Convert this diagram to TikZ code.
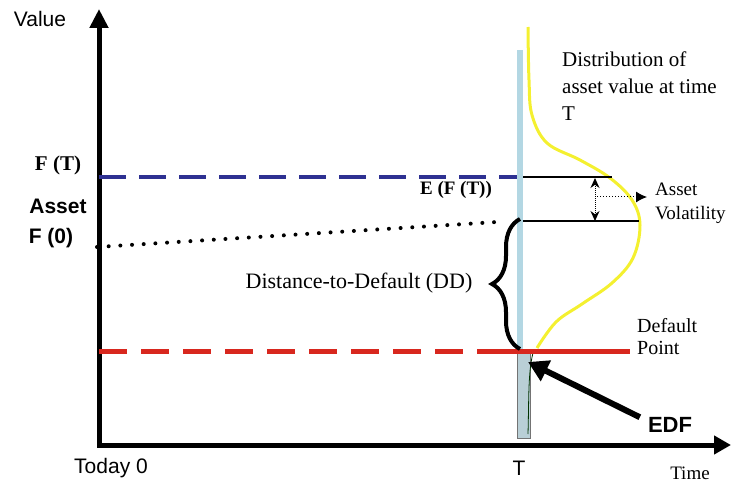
\documentclass[tikz,border=0pt]{standalone}
\usepackage{fontspec}
\setmainfont{Liberation Serif}
\setsansfont{Liberation Sans}
\usepackage{tikz}
\usetikzlibrary{arrows.meta,decorations.pathreplacing}

\definecolor{navyline}{HTML}{2E3192}
\definecolor{redline}{HTML}{D8271E}
\definecolor{paleblue}{HTML}{B3D7E3}
\definecolor{tailfill}{HTML}{B9CFD6}
\definecolor{distyellow}{HTML}{F4F030}

\begin{document}
\begin{tikzpicture}[
  x=1pt, y=-1pt,
  axis/.style={line width=5pt, line join=miter,
    {Triangle[length=19pt,width=18pt]}-{Triangle[length=17pt,width=18pt]}},
  sanslbl/.style={inner sep=0pt, font=\fontsize{21}{25}\selectfont\sffamily},
  seriflbl/.style={inner sep=0pt, font=\fontsize{21}{25}\selectfont\rmfamily},
  bluedash/.style={draw=navyline, line width=4pt, dash pattern=on 27pt off 13pt},
  reddash/.style={draw=redline, line width=5pt, dash pattern=on 28pt off 14pt},
  thinline/.style={draw, line width=1.2pt}
]
\useasboundingbox (0,0) rectangle (732,484);

\coordinate (ytip) at (99,9);
\coordinate (orig) at (99,445);
\coordinate (xtip) at (731,445);
\coordinate (ftstart) at (99,177);
\coordinate (ftend) at (517,177);
\coordinate (tlinetop) at (520,50);
\coordinate (tlinebot) at (520,351);
\coordinate (ftright) at (523,177);
\coordinate (ftvol) at (612,177);
\coordinate (eftright) at (523,221);
\coordinate (eftvol) at (639,221);
\coordinate (volup) at (595,178);
\coordinate (voldown) at (595,221);
\coordinate (volmid) at (597,197);
\coordinate (voltip) at (647,197);
\coordinate (fzero) at (97,247);
\coordinate (fzeroend) at (497,222);
\coordinate (bracetop) at (520,219);
\coordinate (bracebot) at (520,349);
\coordinate (dpstart) at (99,351);
\coordinate (dpmid) at (505,351);
\coordinate (dpend) at (630,351);
\coordinate (edftip) at (528,362);

\node[sanslbl] (value) at (40,19) {Value};
\node[sanslbl] (today) at (111,468) {Today 0};
\node[sanslbl] (tlabel) at (519,468) {T};
\node[seriflbl, font=\fontsize{19}{22}\selectfont\rmfamily] (time) at (690,473) {Time};
\node[seriflbl, font=\fontsize{21}{25}\selectfont\rmfamily\bfseries] (ft) at (58,165) {F (T)};
\node[sanslbl, font=\fontsize{21}{25}\selectfont\sffamily\bfseries] (asset) at (58,206) {Asset};
\node[sanslbl, font=\fontsize{21}{25}\selectfont\sffamily\bfseries] (fzerolbl) at (51,238) {F (0)};
\node[seriflbl, font=\fontsize{19}{22}\selectfont\rmfamily\bfseries] (eft) at (456,190) {E (F (T))};
\node[seriflbl, font=\fontsize{21}{27}\selectfont\rmfamily, align=left, anchor=north west] (dist) at (562,52)
  {Distribution of\\asset value at time\\T};
\node[seriflbl, font=\fontsize{19}{24}\selectfont\rmfamily, align=left, anchor=west] (vol) at (655,203)
  {Asset\\Volatility};
\node[seriflbl, font=\fontsize{22}{26}\selectfont\rmfamily] (dd) at (359,283) {Distance-to-Default (DD)};
\node[seriflbl, font=\fontsize{20}{22}\selectfont\rmfamily, align=left, anchor=west] (default) at (637,337)
  {Default\\Point};
\node[sanslbl, font=\fontsize{22}{26}\selectfont\sffamily\bfseries] (edf) at (670,425) {EDF};

\draw[draw=paleblue, line width=6pt] (tlinetop) -- (tlinebot);
\draw[fill=tailfill, draw=black!55, line width=1pt] (517,353) rectangle (530,438);
\draw[black!80!green, line width=0.8pt] (533,353) .. controls (528,372) and (529,400) .. (528,434);
\draw[distyellow, line width=3pt] plot[smooth, tension=0.6] coordinates
  {(528,27) (529,80) (532,115) (547,143) (580,160) (610,178) (632,200) (640,225)
   (633,258) (612,283) (582,304) (556,322) (537,348)};

\draw[axis] (ytip) -- (orig) -- (xtip);
\draw[bluedash] (ftstart) -- (ftend);
\draw[thinline] (ftright) -- (ftvol);
\draw[thinline] (eftright) -- (eftvol);
\draw[densely dotted, line width=1pt, {Stealth[length=10pt,width=9pt]}-{Stealth[length=10pt,width=9pt]}] (volup) -- (voldown);
\draw[dotted, line width=1pt, -{Latex[length=11pt,width=11pt]}] (volmid) -- (voltip);
\draw[line width=4pt, line cap=round, dash pattern=on 0pt off 11.7pt] (fzero) -- (fzeroend);
\draw[reddash] (dpstart) -- (dpmid);
\draw[draw=redline, line width=5pt] (dpmid) -- (dpend);
\draw[line width=4pt, decorate, decoration={brace, amplitude=28pt}] (bracebot) -- (bracetop);
\draw[line width=6pt, -{Triangle[length=20pt,width=22pt]}] ([xshift=-8pt]edf.north west) -- (edftip);
\end{tikzpicture}
\end{document}
